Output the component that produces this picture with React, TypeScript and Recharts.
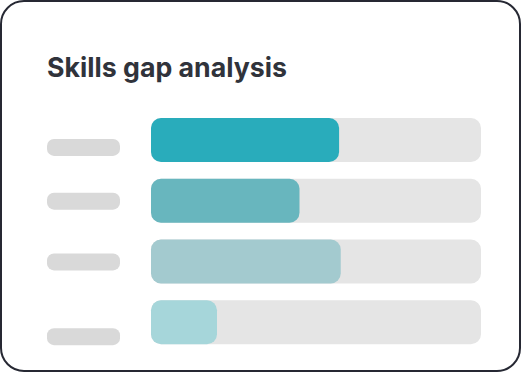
import React from 'react';
import { BarChart, Bar, XAxis, YAxis, Cell, Customized } from 'recharts';

const title = 'Skills gap analysis';
const skills = ['Skill A', 'Skill B', 'Skill C', 'Skill D'];
const levels = [57, 45, 57.5, 20];
const barColors = ['#29acbb', '#68b6be', '#a3cacf', '#a6d6da'];
const labelOffsets = [7, 0, 0, 14];

const data = skills.map((s, i) => ({ skill: s, level: levels[i] }));

const PlaceholderTick = (props: any) => {
  const { x, y, index } = props;
  const w = 73;
  const h = 17;
  return (
    <rect
      x={x - w}
      y={y - h / 2 + (labelOffsets[index] || 0)}
      width={w}
      height={h}
      rx={7}
      fill="#d9d9d9"
    />
  );
};

const Title = () => (
  <text
    x={47}
    y={77}
    fontFamily="Inter, 'Noto Sans', sans-serif"
    fontWeight={700}
    fontSize={27}
    fill="#30333b"
    textLength={240}
    lengthAdjust="spacingAndGlyphs"
  >
    {title}
  </text>
);

export default function App() {
  return (
    <div style={{ position: 'absolute', left: 0, top: 0, width: 521, height: 372, background: '#fff' }}>
      <BarChart
        width={521}
        height={372}
        data={data}
        layout="vertical"
        margin={{ top: 110, right: 40, bottom: 19, left: 47 }}
        barSize={44}
      >
        <XAxis type="number" domain={[0, 100]} hide />
        <YAxis
          type="category"
          dataKey="skill"
          width={104}
          tickLine={false}
          axisLine={false}
          tickSize={0}
          tickMargin={31}
          tick={<PlaceholderTick />}
        />
        <Bar
          dataKey="level"
          radius={10}
          background={{ fill: '#e5e5e5', radius: 10 } as any}
          isAnimationActive={false}
        >
          {data.map((d, i) => (
            <Cell key={d.skill} fill={barColors[i]} />
          ))}
        </Bar>
        <Customized component={Title} />
      </BarChart>
      <div
        style={{
          position: 'absolute',
          left: 0,
          top: 0,
          width: 521,
          height: 372,
          boxSizing: 'border-box',
          border: '2px solid #262833',
          borderRadius: 24,
          pointerEvents: 'none',
        }}
      />
    </div>
  );
}
